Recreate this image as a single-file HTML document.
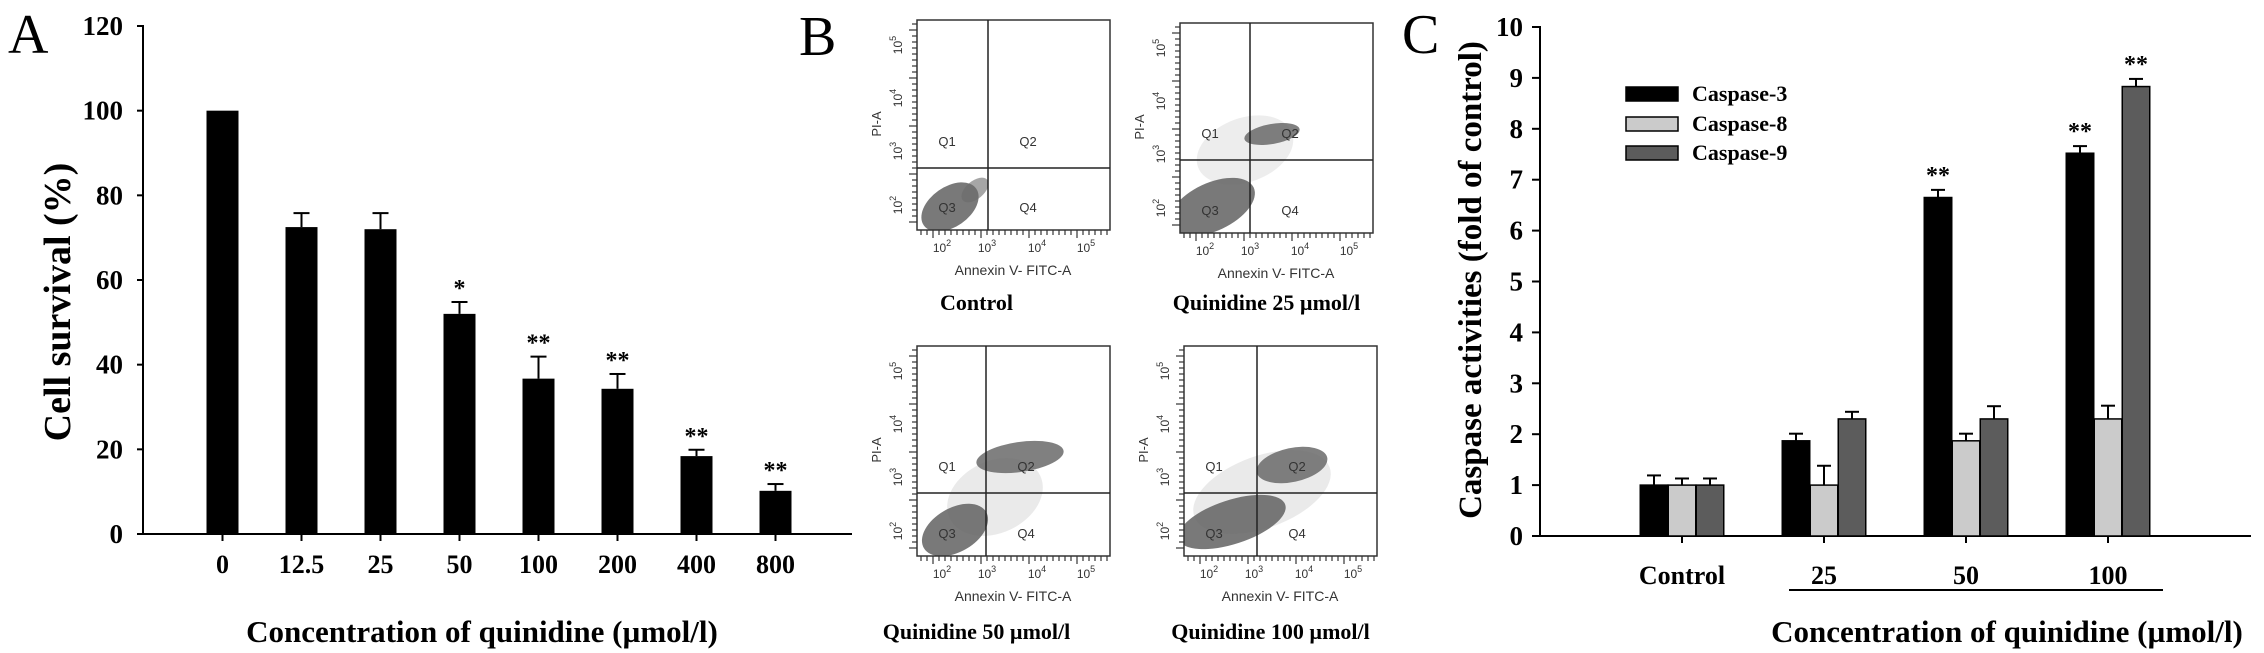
<!DOCTYPE html>
<html><head><meta charset="utf-8">
<style>
html,body{margin:0;padding:0;background:#fff;}
svg{display:block;}
.s{font-family:"Liberation Serif",serif;font-weight:bold;}
.f{font-family:"Liberation Sans",sans-serif;}
</style></head>
<body>
<svg id="root" width="2264" height="653" viewBox="0 0 2264 653" xmlns="http://www.w3.org/2000/svg">
  <g id="panelA"></g>
  <g id="panelB"></g>
  <g id="panelC"></g>
</svg>
<script>
// ---------- Panel A data ----------
const aCategories = ["0","12.5","25","50","100","200","400","800"];
const aValues = [100, 72.5, 72, 52, 36.7, 34.3, 18.4, 10.2];
const aErrors = [0, 3.3, 3.8, 2.8, 5.2, 3.5, 1.5, 1.6];
const aStars = ["", "", "", "*", "**", "**", "**", "**"];
const aTicks = [0, 20, 40, 60, 80, 100, 120];

// ---------- Panel C data ----------
const cCategories = ["Control","25","50","100"];
const cSeries = ["Caspase-3","Caspase-8","Caspase-9"];
const cCasp3 = [1.0, 1.87, 6.65, 7.52];
const cCasp8 = [1.0, 1.0, 1.87, 2.3];
const cCasp9 = [1.0, 2.3, 2.3, 8.83];
const cErr3 = [0.19, 0.14, 0.15, 0.14];
const cErr8 = [0.13, 0.38, 0.14, 0.26];
const cErr9 = [0.13, 0.14, 0.25, 0.15];
const cStars3 = ["", "", "**", "**"];
const cStars8 = ["", "", "", ""];
const cStars9 = ["", "", "", "**"];
const cTicks = [0,1,2,3,4,5,6,7,8,9,10];

const NS = "http://www.w3.org/2000/svg";
function mk(parent, tag, attrs, text){
  const e = document.createElementNS(NS, tag);
  for (const k in attrs) e.setAttribute(k, attrs[k]);
  if (text !== undefined) e.textContent = text;
  parent.appendChild(e);
  return e;
}

// ================= Panel A =================
(function(){
  const g = document.getElementById('panelA');
  const x0 = 143, yBase = 534, yTop = 26, xEnd = 852;
  const y = v => yBase - (v/120)*(yBase - yTop);
  const step = 79, first = 222.5, bw = 32;
  const x = i => first + i*step;

  let t = mk(g,'text',{x:8,y:53,'font-size':56,'font-family':'Liberation Serif, serif'},'A');
  
  

  let ax = mk(g,'line',{x1:x0,y1:yTop-1,x2:x0,y2:yBase,stroke:'#000','stroke-width':2});
  
  
  let bx = mk(g,'line',{x1:137,y1:yBase,x2:xEnd,y2:yBase,stroke:'#000','stroke-width':2});
  
  

  aTicks.forEach(v=>{
    mk(g,'line',{x1:137,y1:y(v),x2:x0,y2:y(v),stroke:'#000','stroke-width':2});
    let tl = mk(g,'text',{x:123,y:y(v)+9,'text-anchor':'end','font-size':27,class:'s'},String(v));
    
    
  });

  aCategories.forEach((c,i)=>{
    const cx = x(i);
    mk(g,'line',{x1:cx,y1:yBase,x2:cx,y2:yBase+7,stroke:'#000','stroke-width':2});
    let tl = mk(g,'text',{x:cx,y:573,'text-anchor':'middle','font-size':26,class:'s'},c);
    
    
    const top = y(aValues[i]);
    if (aErrors[i] > 0){
      const et = y(aValues[i]+aErrors[i]);
      let e1 = mk(g,'line',{x1:cx,y1:top,x2:cx,y2:et,stroke:'#000','stroke-width':2});
      
      
      mk(g,'line',{x1:cx-8,y1:et,x2:cx+8,y2:et,stroke:'#000','stroke-width':2});
    }
    let r = mk(g,'rect',{x:cx-bw/2,y:top,width:bw,height:yBase-top,fill:'#000'});
    
    
    if (aStars[i]){
      const et = y(aValues[i]+aErrors[i]);
      let s = mk(g,'text',{x:cx,y:et-6,'text-anchor':'middle','font-size':24,class:'s'},aStars[i]);
      
      
    }
  });

  let yt = mk(g,'text',{x:0,y:0,'text-anchor':'middle','font-size':38,class:'s',transform:'translate(70,302) rotate(-90)'},'Cell survival (%)');
  
  
  let xt = mk(g,'text',{x:482,y:642,'text-anchor':'middle','font-size':31,class:'s'},'Concentration of quinidine  (\u00b5mol/l)');
  
  
})();

// ================= Panel B (flow cytometry) =================
const bTitles = ["Control","Quinidine 25 \u00b5mol/l","Quinidine 50 \u00b5mol/l","Quinidine 100 \u00b5mol/l"];
const bBoxX = [917, 1180, 917, 1184];
const bBoxY = [20, 23, 346, 346];
const bGateX = [988, 1250, 986, 1257];
const bGateY = [168, 160, 493, 493];
// clusters: [cx, cy, rx, ry, rotation, opacity] per plot
const bClusters = [
  [[950,207,32,20,-35,0.9],[975,190,16,9,-40,0.6]],
  [[1212,207,46,24,-25,0.9],[1272,134,28,10,-10,0.85],[1245,150,50,32,-20,0.12]],
  [[955,530,36,22,-30,0.9],[1020,457,44,15,-8,0.85],[995,497,50,36,-25,0.14]],
  [[1232,522,56,22,-18,0.9],[1292,465,36,17,-12,0.85],[1262,492,72,36,-20,0.14]]
];
(function(){
  const g = document.getElementById('panelB');
  let t = mk(g,'text',{x:799,y:55,'font-size':56,'font-family':'Liberation Serif, serif'},'B');
  
  
  for (let p=0;p<4;p++){
    const bx=bBoxX[p], by=bBoxY[p], w=193, h=210;
    const pg = mk(g,'g',{});
    
    
    bClusters[p].forEach(c=>{
      let e = mk(pg,'ellipse',{cx:c[0],cy:c[1],rx:c[2],ry:c[3],fill:'#6a6a6a','fill-opacity':c[5],transform:'rotate('+c[4]+' '+c[0]+' '+c[1]+')'});
      
      
    });
    mk(pg,'rect',{x:bx-60,y:by+h,width:w+80,height:30,fill:'#fff'});
    mk(pg,'rect',{x:bx-40,y:by,width:40,height:h,fill:'#fff'});
    let box = mk(pg,'rect',{x:bx,y:by,width:w,height:h,fill:'none',stroke:'#333','stroke-width':1.5});
    
    
    mk(pg,'line',{x1:bGateX[p],y1:by,x2:bGateX[p],y2:by+h,stroke:'#222','stroke-width':1.5});
    mk(pg,'line',{x1:bx,y1:bGateY[p],x2:bx+w,y2:bGateY[p],stroke:'#222','stroke-width':1.5});
    for (let i=0;i<32;i++){
      const tx = bx+4+i*6;
      mk(pg,'line',{x1:tx,y1:by+h,x2:tx,y2:by+h+(i%8==2?8:5),stroke:'#333','stroke-width':1.2});
    }
    for (let i=0;i<34;i++){
      const ty = by+4+i*6;
      mk(pg,'line',{x1:bx,y1:ty,x2:bx-(i%8==1?8:5),y2:ty,stroke:'#333','stroke-width':1.2});
    }
    const xs=[25,70,120,169], ys=[185,131,78,25];
    ['2','3','4','5'].forEach((e,i)=>{
      let tl = mk(pg,'text',{x:bx+xs[i],y:by+h+22,'text-anchor':'middle','font-size':12,class:'f',fill:'#333'});
      tl.innerHTML='10<tspan dy="-6" font-size="9">'+e+'</tspan>';
      
      
      let yl = mk(pg,'text',{x:0,y:0,'text-anchor':'middle','font-size':12,class:'f',fill:'#333',transform:'translate('+(bx-15)+','+(by+ys[i])+') rotate(-90)'});
      yl.innerHTML='10<tspan dy="-6" font-size="9">'+e+'</tspan>';
      
      
    });
    let xl = mk(pg,'text',{x:bx+96,y:by+h+45,'text-anchor':'middle','font-size':14,class:'f',fill:'#333'},'Annexin V- FITC-A');
    
    
    let yl = mk(pg,'text',{x:0,y:0,'text-anchor':'middle','font-size':13,class:'f',fill:'#333',transform:'translate('+(bx-36)+','+(by+104)+') rotate(-90)'},'PI-A');
    
    
    const q = [['Q1',bx+30,bGateY[p]-22],['Q2',bGateX[p]+40,bGateY[p]-22],['Q3',bx+30,by+h-18],['Q4',bGateX[p]+40,by+h-18]];
    q.forEach(a=>{
      let ql = mk(pg,'text',{x:a[1],y:a[2],'text-anchor':'middle','font-size':13,class:'f',fill:'#333'},a[0]);
      
      
    });
    let tt = mk(g,'text',{x:bx+w/2+(p%2?-10:-37),y:(p<2?310:639),'text-anchor':'middle','font-size':22,class:'s'},bTitles[p]);
    
    
  }
})();

// ================= Panel C =================
(function(){
  const g = document.getElementById('panelC');
  const x0 = 1540, yBase = 536, yTop = 27, xEnd = 2251;
  const y = v => yBase - (v/10)*(yBase - yTop);
  const first = 1682, step = 142, bw = 27.5;
  const fills = ['#000','#cbcbcb','#5c5c5c'];
  const vals = [cCasp3, cCasp8, cCasp9];
  const errs = [cErr3, cErr8, cErr9];
  const stars = [cStars3, cStars8, cStars9];

  let t = mk(g,'text',{x:1402,y:53,'font-size':56,'font-family':'Liberation Serif, serif'},'C');
  
  

  let ax = mk(g,'line',{x1:x0,y1:yTop-1,x2:x0,y2:yBase,stroke:'#000','stroke-width':2});
  
  
  let bx = mk(g,'line',{x1:1532,y1:yBase,x2:xEnd,y2:yBase,stroke:'#000','stroke-width':2});
  
  

  cTicks.forEach(v=>{
    mk(g,'line',{x1:1532,y1:y(v),x2:x0,y2:y(v),stroke:'#000','stroke-width':2});
    let tl = mk(g,'text',{x:1523,y:y(v)+9,'text-anchor':'end','font-size':27,class:'s'},String(v));
    
    
  });

  cCategories.forEach((c,i)=>{
    const cx = first + i*step;
    mk(g,'line',{x1:cx,y1:yBase,x2:cx,y2:yBase+7,stroke:'#000','stroke-width':2});
    let tl = mk(g,'text',{x:cx,y:584,'text-anchor':'middle','font-size':26,class:'s'},c);
    
    
    for (let s=0;s<3;s++){
      const bxc = cx + (s-1)*28;
      const v = vals[s][i], e = errs[s][i];
      const top = y(v), et = y(v+e);
      mk(g,'line',{x1:bxc,y1:top,x2:bxc,y2:et,stroke:'#000','stroke-width':2});
      mk(g,'line',{x1:bxc-7,y1:et,x2:bxc+7,y2:et,stroke:'#000','stroke-width':2});
      let r = mk(g,'rect',{x:bxc-bw/2,y:top,width:bw,height:yBase-top,fill:fills[s],stroke:'#000','stroke-width':1.5});
      
      
      if (stars[s][i]){
        let st = mk(g,'text',{x:bxc,y:et-7,'text-anchor':'middle','font-size':24,class:'s'},stars[s][i]);
        
        
      }
    }
  });

  let ul = mk(g,'line',{x1:1789,y1:590,x2:2163,y2:590,stroke:'#000','stroke-width':2});
  
  

  const ly = [87, 117, 146];
  cSeries.forEach((s,i)=>{
    let sw = mk(g,'rect',{x:1626,y:ly[i],width:52,height:14,fill:fills[i],stroke:'#000','stroke-width':1.5});
    
    
    let lt = mk(g,'text',{x:1692,y:ly[i]+14,'font-size':22,class:'s'},s);
    
    
  });

  let yt = mk(g,'text',{x:0,y:0,'text-anchor':'middle','font-size':33,class:'s',transform:'translate(1481,280) rotate(-90)'},'Caspase activities (fold of control)');
  
  
  let xt = mk(g,'text',{x:2007,y:642,'text-anchor':'middle','font-size':31,class:'s'},'Concentration of quinidine (\u00b5mol/l)');
  
  
})();
</script>
</body></html>
